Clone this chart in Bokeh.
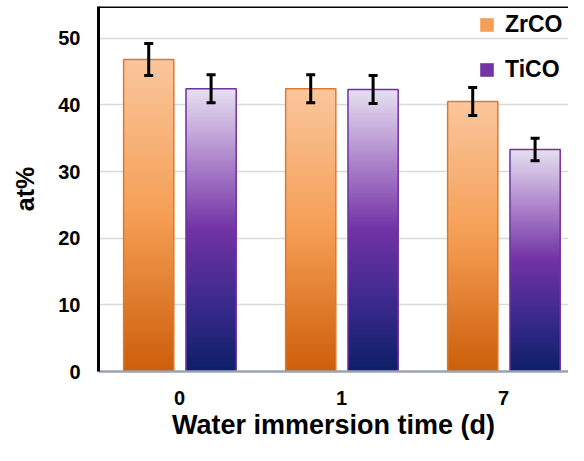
import math
from bokeh.plotting import figure
from bokeh.models import (Range1d, FixedTicker, Whisker, TeeHead, ColumnDataSource,
                          Legend, LegendItem, Span)
from bokeh.embed import file_html
from bokeh.resources import INLINE

# ---- data ----
categories = ["0", "1", "7"]
series = ["ZrCO", "TiCO"]
zrco = [46.8, 42.4, 40.5]
zrco_err = [2.4, 2.1, 2.1]
tico = [42.4, 42.3, 33.3]
tico_err = [2.1, 2.1, 1.7]
y_ticks = [0, 10, 20, 30, 40, 50]
x_title = "Water immersion time (d)"
y_title = "at%"

# ---- styles ----
zr_stops = [(0.0, (204, 94, 10)), (0.5, (245, 158, 85)), (1.0, (250, 198, 156))]
ti_stops = [(0.0, (13, 31, 102)), (0.25, (60, 42, 142)), (0.5, (113, 50, 164)),
            (0.75, (174, 134, 204)), (1.0, (230, 224, 240))]
zr_border = "#DC7A32"
ti_border = "#7030A0"
FONT = "Liberation Sans"


def grad(stops, t):
    for (t0, c0), (t1, c1) in zip(stops[:-1], stops[1:]):
        if t0 <= t <= t1:
            f = (t - t0) / (t1 - t0) if t1 > t0 else 0
            c = [round(a + (b - a) * f) for a, b in zip(c0, c1)]
            return "#%02x%02x%02x" % tuple(c)
    return "#%02x%02x%02x" % stops[-1][1]


W, H = 568, 445
LEFT, TOP, BOTTOM = 98, 6, 74
frame_h = H - TOP - BOTTOM
y_max = 54.75
px_per_x = 162

p = figure(width=W, height=H, output_backend="svg", toolbar_location=None,
           x_range=Range1d(-0.5, -0.5 + (W - LEFT) / px_per_x), y_range=Range1d(0, y_max),
           min_border_left=LEFT, min_border_right=0, min_border_top=TOP,
           min_border_bottom=BOTTOM)
p.outline_line_color = None
p.background_fill_color = "white"

bar_w = 0.31
offsets = [-0.19, 0.195]
N = 120

renderers = []
for vals, stops, off, border in [(zrco, zr_stops, offsets[0], zr_border),
                                 (tico, ti_stops, offsets[1], ti_border)]:
    L, R, B, T, C = [], [], [], [], []
    for i, v in enumerate(vals):
        for k in range(N):
            L.append(i + off - bar_w / 2)
            R.append(i + off + bar_w / 2)
            B.append(v * k / N)
            T.append(v * min(k + 2, N) / N)
            C.append(grad(stops, (k + 0.5) / N))
    src = ColumnDataSource(dict(left=L, right=R, bottom=B, top=T, color=C))
    r = p.quad(left="left", right="right", bottom="bottom", top="top", source=src,
               fill_color="color", line_color=None)
    renderers.append(r)
    xs = [i + off for i in range(len(vals))]
    p.vbar(x=xs, top=vals, width=bar_w, bottom=0, fill_color=None,
           line_color=border, line_width=1.5)

for vals, errs, off in [(zrco, zrco_err, offsets[0]), (tico, tico_err, offsets[1])]:
    wsrc = ColumnDataSource(dict(x=[i + off for i in range(len(vals))],
                                 upper=[v + e for v, e in zip(vals, errs)],
                                 lower=[v - e for v, e in zip(vals, errs)]))
    w = Whisker(source=wsrc, base="x", upper="upper", lower="lower",
                line_width=3, line_color="black", level="overlay",
                upper_head=TeeHead(size=9, line_width=3, line_color="black"),
                lower_head=TeeHead(size=9, line_width=3, line_color="black"))
    p.add_layout(w)

legend = Legend(items=[LegendItem(label=series[0], renderers=[renderers[0]], index=N // 2),
                       LegendItem(label=series[1], renderers=[renderers[1]], index=N // 2)],
                location=(380, frame_h - (83 - TOP)), padding=0, margin=0, spacing=18,
                glyph_width=17, glyph_height=17, label_height=26, label_standoff=10,
                label_text_font=FONT, label_text_font_style="bold",
                label_text_font_size="23px", label_text_color="black",
                background_fill_alpha=0, border_line_color=None)
p.add_layout(legend)

# axes
p.xaxis.ticker = FixedTicker(ticks=list(range(len(categories))))
p.xaxis.major_label_overrides = {i: c for i, c in enumerate(categories)}
p.xaxis.axis_line_color = "#9AA3AD"
p.xaxis.axis_line_width = 2.5
p.xaxis.major_tick_line_color = None
p.xaxis.minor_tick_line_color = None
p.xaxis.major_tick_out = 0
p.xaxis.major_label_standoff = 19
p.xaxis.major_label_text_font = FONT
p.xaxis.major_label_text_font_style = "bold"
p.xaxis.major_label_text_font_size = "20px"
p.xaxis.major_label_text_color = "black"
p.xaxis.axis_label = x_title
p.xaxis.axis_label_text_font = FONT
p.xaxis.axis_label_text_font_style = "bold"
p.xaxis.axis_label_text_font_size = "27px"
p.xaxis.axis_label_text_color = "black"
p.xaxis.axis_label_standoff = 2

p.yaxis.ticker = FixedTicker(ticks=y_ticks)
p.yaxis.axis_line_color = "black"
p.yaxis.axis_line_width = 3
p.yaxis.major_tick_line_color = None
p.yaxis.minor_tick_line_color = None
p.yaxis.major_tick_out = 0
p.yaxis.major_label_standoff = 18
p.yaxis.major_label_text_font = FONT
p.yaxis.major_label_text_font_style = "bold"
p.yaxis.major_label_text_font_size = "20px"
p.yaxis.major_label_text_color = "black"
p.yaxis.axis_label = y_title
p.yaxis.axis_label_text_font = FONT
p.yaxis.axis_label_text_font_style = "bold"
p.yaxis.axis_label_text_font_size = "25px"
p.yaxis.axis_label_text_color = "black"
p.yaxis.axis_label_standoff = 16

p.xgrid.grid_line_color = None
p.ygrid.grid_line_color = "#D9D9D9"
p.ygrid.grid_line_width = 1.5

p.add_layout(Span(location=y_max, dimension="width", line_color="black", line_width=3))

open("out.html", "w").write(file_html(p, INLINE))
